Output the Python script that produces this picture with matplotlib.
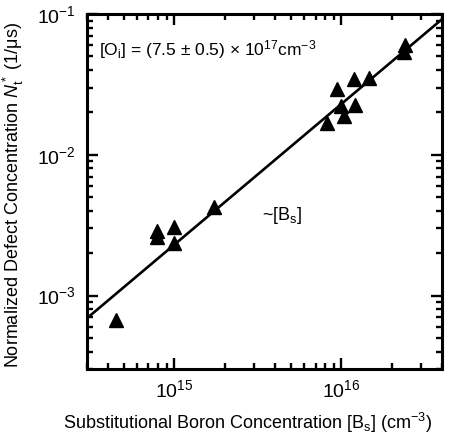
import numpy as np
import matplotlib
matplotlib.use("Agg")
import matplotlib.pyplot as plt
from matplotlib.ticker import LogLocator, NullFormatter

plt.rcParams['font.family'] = ['Liberation Sans', 'DejaVu Sans']
plt.rcParams['mathtext.fontset'] = 'custom'
plt.rcParams['mathtext.rm'] = 'Liberation Sans'
plt.rcParams['mathtext.it'] = 'Liberation Sans:italic'
plt.rcParams['mathtext.bf'] = 'Liberation Sans:bold'

# boron concentration (cm^-3) and normalized defect concentration (1/us)
boron = [4.5e14, 7.9e14, 7.9e14, 1.0e15, 1.0e15, 1.73e15,
         8.2e15, 9.4e15, 1.0e16, 1.04e16, 1.2e16, 1.19e16, 1.46e16,
         2.4e16, 2.37e16]
nt = [6.7e-4, 2.89e-3, 2.62e-3, 3.08e-3, 2.38e-3, 4.27e-3,
      1.69e-2, 2.92e-2, 2.23e-2, 1.89e-2, 2.25e-2, 3.44e-2, 3.51e-2,
      6.03e-2, 5.4e-2]

# linear fit ~[Bs]
k_fit = 2.3e-18
fit_x = [3e14, 4e16]

fig = plt.figure(figsize=(4.59, 4.41), dpi=100)
ax = fig.add_axes([0.1895, 0.163, 0.7735, 0.805])

fx = np.array(fit_x)
ax.plot(fx, k_fit * fx, color='black', lw=1.9)
ax.plot(boron, nt, linestyle='none', marker='^', color='black', markersize=9.5)

ax.set_xscale('log')
ax.set_yscale('log')
ax.set_xlim(3e14, 4e16)
ax.set_ylim(3e-4, 1e-1)

ax.xaxis.set_major_locator(LogLocator(base=10, numticks=10))
ax.yaxis.set_major_locator(LogLocator(base=10, numticks=10))
ax.xaxis.set_minor_locator(LogLocator(base=10, subs=np.arange(2, 10), numticks=10))
ax.yaxis.set_minor_locator(LogLocator(base=10, subs=np.arange(2, 10), numticks=10))
ax.xaxis.set_minor_formatter(NullFormatter())
ax.yaxis.set_minor_formatter(NullFormatter())

ax.tick_params(which='both', direction='in', top=True, right=True, width=1.7,
               labelsize=14)
ax.tick_params(axis='x', which='major', length=8, pad=7)
ax.tick_params(axis='y', which='major', length=8, pad=8)
ax.tick_params(which='minor', length=4.5)
for s in ax.spines.values():
    s.set_linewidth(2.2)

ax.set_xlabel(r'Substitutional Boron Concentration [B$_\mathrm{s}$] (cm$^{-3}$)',
              fontsize=13)
ax.set_ylabel(r'Normalized Defect Concentration $N_\mathrm{t}^*$ (1/μs)',
              fontsize=13)
ax.xaxis.set_label_coords(0.453, -0.118)
ax.yaxis.set_label_coords(-0.172, 0.49)

ax.text(0.035, 0.885, r'[O$_\mathrm{i}$] = (7.5 $\pm$ 0.5) $\times$ 10$^{17}$cm$^{-3}$',
        transform=ax.transAxes, fontsize=12.5)
ax.text(0.493, 0.434, r'~[B$_\mathrm{s}$]', transform=ax.transAxes, fontsize=13,
        va='center')

fig.savefig('out.png', dpi=100)
